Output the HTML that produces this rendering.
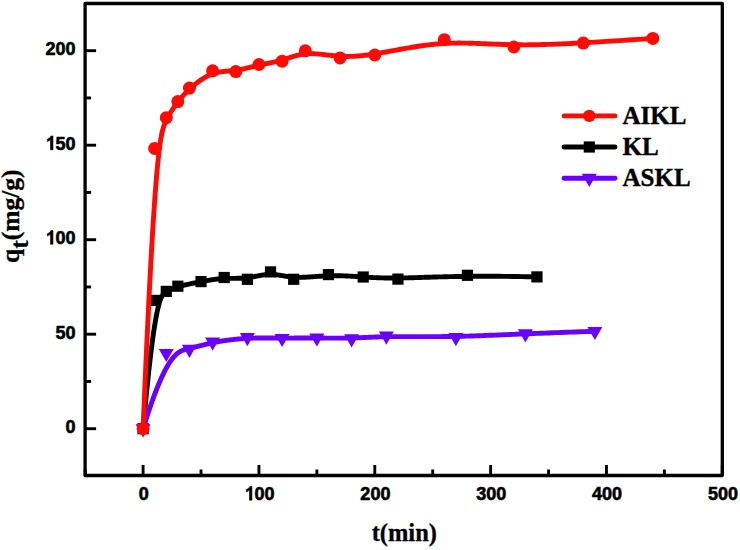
<!DOCTYPE html>
<html><head><meta charset="utf-8"><style>
html,body{margin:0;padding:0;background:#fff;}
body{width:740px;height:550px;overflow:hidden;}
svg{display:block;}
.tl{font-family:"Liberation Sans",sans-serif;font-weight:bold;font-size:18px;fill:#000;stroke:#000;stroke-width:0.6px;stroke-linejoin:round;}
.lg{font-family:"Liberation Serif",serif;font-weight:bold;font-size:25px;fill:#000;stroke:#000;stroke-width:0.4px;}
.at{font-family:"Liberation Serif",serif;font-weight:bold;font-size:24px;fill:#000;stroke:#000;stroke-width:0.3px;}
</style></head><body>
<svg width="740" height="550" viewBox="0 0 740 550">
<rect x="85.1" y="3.5" width="637.20" height="472.00" fill="none" stroke="#000" stroke-width="3.3" stroke-linejoin="round"/>
<line x1="85.1" y1="428.70" x2="96.10" y2="428.70" stroke="#000" stroke-width="2.9"/>
<text transform="translate(65.59,433.30) scale(1,1.07)" class="tl">0</text>
<line x1="85.1" y1="334.20" x2="96.10" y2="334.20" stroke="#000" stroke-width="2.9"/>
<text transform="translate(55.58,338.80) scale(1,1.07)" class="tl">5</text><text transform="translate(65.59,338.80) scale(1,1.07)" class="tl">0</text>
<line x1="85.1" y1="239.70" x2="96.10" y2="239.70" stroke="#000" stroke-width="2.9"/>
<path transform="translate(45.58,244.30) scale(1,1.07)" d="M7.38,0.00 L7.38,-12.89 L5.40,-12.89 L5.04,-12.10 L3.96,-11.07 L2.70,-10.26 L1.80,-9.90 L1.80,-7.83 L3.24,-8.37 L4.23,-8.95 L4.95,-9.49 L4.95,0.00Z" fill="#000" stroke="#000" stroke-width="0.6" stroke-linejoin="round"/><text transform="translate(55.58,244.30) scale(1,1.07)" class="tl">0</text><text transform="translate(65.59,244.30) scale(1,1.07)" class="tl">0</text>
<line x1="85.1" y1="145.20" x2="96.10" y2="145.20" stroke="#000" stroke-width="2.9"/>
<path transform="translate(45.58,149.80) scale(1,1.07)" d="M7.38,0.00 L7.38,-12.89 L5.40,-12.89 L5.04,-12.10 L3.96,-11.07 L2.70,-10.26 L1.80,-9.90 L1.80,-7.83 L3.24,-8.37 L4.23,-8.95 L4.95,-9.49 L4.95,0.00Z" fill="#000" stroke="#000" stroke-width="0.6" stroke-linejoin="round"/><text transform="translate(55.58,149.80) scale(1,1.07)" class="tl">5</text><text transform="translate(65.59,149.80) scale(1,1.07)" class="tl">0</text>
<line x1="85.1" y1="50.70" x2="96.10" y2="50.70" stroke="#000" stroke-width="2.9"/>
<text transform="translate(45.58,55.30) scale(1,1.07)" class="tl">2</text><text transform="translate(55.58,55.30) scale(1,1.07)" class="tl">0</text><text transform="translate(65.59,55.30) scale(1,1.07)" class="tl">0</text>
<line x1="85.1" y1="381.45" x2="91.10" y2="381.45" stroke="#000" stroke-width="2.9"/>
<line x1="85.1" y1="286.95" x2="91.10" y2="286.95" stroke="#000" stroke-width="2.9"/>
<line x1="85.1" y1="192.45" x2="91.10" y2="192.45" stroke="#000" stroke-width="2.9"/>
<line x1="85.1" y1="97.95" x2="91.10" y2="97.95" stroke="#000" stroke-width="2.9"/>
<line x1="143.10" y1="475.5" x2="143.10" y2="465.00" stroke="#000" stroke-width="2.9"/>
<text transform="translate(138.70,500.20) scale(1,1.07)" class="tl">0</text>
<line x1="258.94" y1="475.5" x2="258.94" y2="465.00" stroke="#000" stroke-width="2.9"/>
<path transform="translate(244.53,500.20) scale(1,1.07)" d="M7.38,0.00 L7.38,-12.89 L5.40,-12.89 L5.04,-12.10 L3.96,-11.07 L2.70,-10.26 L1.80,-9.90 L1.80,-7.83 L3.24,-8.37 L4.23,-8.95 L4.95,-9.49 L4.95,0.00Z" fill="#000" stroke="#000" stroke-width="0.6" stroke-linejoin="round"/><text transform="translate(254.54,500.20) scale(1,1.07)" class="tl">0</text><text transform="translate(264.54,500.20) scale(1,1.07)" class="tl">0</text>
<line x1="374.78" y1="475.5" x2="374.78" y2="465.00" stroke="#000" stroke-width="2.9"/>
<text transform="translate(360.37,500.20) scale(1,1.07)" class="tl">2</text><text transform="translate(370.38,500.20) scale(1,1.07)" class="tl">0</text><text transform="translate(380.38,500.20) scale(1,1.07)" class="tl">0</text>
<line x1="490.62" y1="475.5" x2="490.62" y2="465.00" stroke="#000" stroke-width="2.9"/>
<text transform="translate(476.21,500.20) scale(1,1.07)" class="tl">3</text><text transform="translate(486.22,500.20) scale(1,1.07)" class="tl">0</text><text transform="translate(496.22,500.20) scale(1,1.07)" class="tl">0</text>
<line x1="606.46" y1="475.5" x2="606.46" y2="465.00" stroke="#000" stroke-width="2.9"/>
<text transform="translate(592.05,500.20) scale(1,1.07)" class="tl">4</text><text transform="translate(602.06,500.20) scale(1,1.07)" class="tl">0</text><text transform="translate(612.06,500.20) scale(1,1.07)" class="tl">0</text>
<line x1="722.30" y1="475.5" x2="722.30" y2="465.00" stroke="#000" stroke-width="2.9"/>
<text transform="translate(707.89,500.20) scale(1,1.07)" class="tl">5</text><text transform="translate(717.90,500.20) scale(1,1.07)" class="tl">0</text><text transform="translate(727.90,500.20) scale(1,1.07)" class="tl">0</text>
<line x1="85.18" y1="475.5" x2="85.18" y2="469.50" stroke="#000" stroke-width="2.9"/>
<line x1="201.02" y1="475.5" x2="201.02" y2="469.50" stroke="#000" stroke-width="2.9"/>
<line x1="316.86" y1="475.5" x2="316.86" y2="469.50" stroke="#000" stroke-width="2.9"/>
<line x1="432.70" y1="475.5" x2="432.70" y2="469.50" stroke="#000" stroke-width="2.9"/>
<line x1="548.54" y1="475.5" x2="548.54" y2="469.50" stroke="#000" stroke-width="2.9"/>
<line x1="664.38" y1="475.5" x2="664.38" y2="469.50" stroke="#000" stroke-width="2.9"/>
<path d="M143.10,428.70 L143.96,419.31 L144.79,410.37 L145.61,401.87 L146.41,393.80 L147.18,386.15 L147.94,378.91 L148.68,372.06 L149.39,365.60 L150.09,359.51 L150.78,353.77 L151.44,348.39 L152.09,343.35 L152.72,338.63 L153.34,334.23 L153.94,330.14 L154.53,326.33 L155.10,322.80 L155.66,319.55 L156.20,316.55 L156.74,313.80 L157.25,311.28 L157.76,308.99 L158.26,306.90 L158.74,305.02 L159.21,303.33 L159.67,301.81 L160.13,300.46 L160.57,299.27 L161.00,298.21 L161.43,297.29 L161.84,296.49 L162.25,295.80 L162.65,295.20 L163.05,294.69 L163.44,294.26 L163.82,293.88 L164.20,293.56 L164.57,293.28 L164.94,293.02 L165.30,292.78 L165.66,292.55 L166.02,292.33 L166.37,292.10 L166.72,291.89 L167.07,291.68 L167.42,291.47 L167.76,291.27 L168.11,291.07 L168.45,290.88 L168.79,290.69 L169.13,290.50 L169.46,290.32 L169.80,290.14 L170.14,289.96 L170.48,289.79 L170.82,289.63 L171.16,289.46 L171.50,289.30 L171.84,289.14 L172.18,288.99 L172.53,288.83 L172.87,288.68 L173.22,288.54 L173.57,288.39 L173.93,288.25 L174.29,288.11 L174.65,287.97 L175.01,287.83 L175.38,287.70 L175.76,287.56 L176.13,287.43 L176.52,287.30 L176.90,287.17 L177.30,287.05 L177.70,286.92 L178.10,286.79 L178.51,286.67 L178.93,286.55 L179.35,286.42 L179.78,286.30 L180.22,286.18 L180.67,286.06 L181.12,285.93 L181.58,285.81 L182.04,285.69 L182.51,285.57 L182.99,285.45 L183.47,285.33 L183.96,285.21 L184.46,285.09 L184.96,284.97 L185.46,284.86 L185.98,284.74 L186.49,284.62 L187.01,284.50 L187.54,284.39 L188.07,284.27 L188.60,284.15 L189.14,284.04 L189.68,283.92 L190.22,283.81 L190.77,283.69 L191.32,283.58 L191.88,283.46 L192.43,283.35 L192.99,283.24 L193.56,283.12 L194.12,283.01 L194.69,282.90 L195.26,282.79 L195.83,282.67 L196.40,282.56 L196.98,282.45 L197.55,282.34 L198.13,282.23 L198.71,282.12 L199.28,282.01 L199.86,281.90 L200.44,281.79 L201.02,281.68 L201.60,281.57 L202.18,281.47 L202.76,281.36 L203.34,281.25 L203.92,281.15 L204.50,281.04 L205.07,280.93 L205.65,280.83 L206.23,280.73 L206.81,280.63 L207.39,280.52 L207.97,280.43 L208.55,280.33 L209.13,280.23 L209.71,280.13 L210.29,280.04 L210.87,279.95 L211.45,279.86 L212.02,279.77 L212.60,279.68 L213.18,279.60 L213.76,279.52 L214.34,279.44 L214.92,279.36 L215.50,279.28 L216.08,279.21 L216.66,279.14 L217.24,279.07 L217.82,279.00 L218.40,278.94 L218.98,278.88 L219.55,278.82 L220.13,278.77 L220.71,278.72 L221.29,278.67 L221.87,278.63 L222.45,278.59 L223.03,278.55 L223.61,278.51 L224.19,278.48 L224.77,278.46 L225.35,278.43 L225.93,278.41 L226.50,278.40 L227.08,278.38 L227.66,278.37 L228.24,278.36 L228.82,278.35 L229.40,278.35 L229.98,278.34 L230.56,278.34 L231.14,278.34 L231.72,278.33 L232.30,278.33 L232.88,278.33 L233.46,278.33 L234.03,278.33 L234.61,278.33 L235.19,278.33 L235.77,278.33 L236.35,278.33 L236.93,278.32 L237.51,278.32 L238.09,278.31 L238.67,278.30 L239.25,278.29 L239.83,278.28 L240.41,278.26 L240.98,278.24 L241.56,278.22 L242.14,278.19 L242.72,278.16 L243.30,278.13 L243.88,278.09 L244.46,278.05 L245.04,278.00 L245.62,277.95 L246.20,277.90 L246.78,277.83 L247.36,277.77 L247.94,277.69 L248.51,277.62 L249.09,277.53 L249.67,277.44 L250.25,277.35 L250.83,277.26 L251.41,277.16 L251.99,277.05 L252.57,276.95 L253.15,276.84 L253.73,276.73 L254.31,276.62 L254.89,276.51 L255.46,276.39 L256.04,276.28 L256.62,276.17 L257.20,276.05 L257.78,275.94 L258.36,275.83 L258.94,275.72 L259.52,275.61 L260.10,275.50 L260.68,275.40 L261.26,275.29 L261.84,275.20 L262.42,275.10 L262.99,275.01 L263.57,274.92 L264.15,274.84 L264.73,274.77 L265.31,274.70 L265.89,274.63 L266.47,274.57 L267.05,274.52 L267.63,274.47 L268.21,274.44 L268.79,274.41 L269.37,274.38 L269.94,274.37 L270.52,274.37 L271.10,274.37 L271.68,274.38 L272.26,274.41 L272.84,274.44 L273.42,274.47 L274.01,274.52 L274.59,274.57 L275.17,274.63 L275.76,274.69 L276.35,274.76 L276.94,274.83 L277.53,274.91 L278.12,274.99 L278.72,275.08 L279.31,275.17 L279.91,275.26 L280.52,275.36 L281.13,275.46 L281.74,275.56 L282.35,275.66 L282.97,275.76 L283.59,275.86 L284.21,275.96 L284.84,276.06 L285.48,276.16 L286.11,276.26 L286.76,276.36 L287.40,276.45 L288.06,276.55 L288.71,276.64 L289.38,276.72 L290.05,276.81 L290.72,276.89 L291.40,276.96 L292.09,277.03 L292.78,277.09 L293.48,277.15 L294.19,277.20 L294.90,277.25 L295.62,277.28 L296.35,277.31 L297.08,277.34 L297.83,277.35 L298.57,277.36 L299.33,277.36 L300.09,277.36 L300.86,277.35 L301.63,277.34 L302.41,277.32 L303.19,277.29 L303.98,277.26 L304.78,277.23 L305.58,277.19 L306.39,277.15 L307.20,277.11 L308.01,277.06 L308.83,277.01 L309.65,276.96 L310.48,276.90 L311.31,276.85 L312.14,276.79 L312.98,276.73 L313.82,276.67 L314.67,276.61 L315.51,276.55 L316.36,276.48 L317.22,276.42 L318.07,276.36 L318.93,276.30 L319.79,276.24 L320.65,276.19 L321.51,276.13 L322.37,276.08 L323.24,276.02 L324.10,275.98 L324.97,275.93 L325.84,275.89 L326.71,275.85 L327.58,275.81 L328.44,275.78 L329.31,275.76 L330.18,275.73 L331.05,275.72 L331.92,275.70 L332.79,275.69 L333.66,275.69 L334.53,275.68 L335.39,275.69 L336.26,275.69 L337.13,275.70 L338.00,275.71 L338.87,275.72 L339.74,275.74 L340.61,275.76 L341.48,275.79 L342.34,275.81 L343.21,275.84 L344.08,275.87 L344.95,275.91 L345.82,275.94 L346.69,275.98 L347.56,276.02 L348.43,276.06 L349.30,276.10 L350.16,276.15 L351.03,276.20 L351.90,276.25 L352.77,276.29 L353.64,276.35 L354.51,276.40 L355.38,276.45 L356.25,276.50 L357.11,276.56 L357.98,276.61 L358.85,276.67 L359.72,276.72 L360.59,276.78 L361.46,276.84 L362.33,276.89 L363.20,276.95 L364.06,277.01 L364.94,277.06 L365.81,277.12 L366.68,277.17 L367.56,277.23 L368.45,277.28 L369.34,277.33 L370.24,277.38 L371.15,277.43 L372.06,277.48 L372.99,277.53 L373.93,277.58 L374.89,277.62 L375.86,277.67 L376.84,277.71 L377.84,277.75 L378.85,277.78 L379.89,277.82 L380.94,277.85 L382.02,277.88 L383.12,277.91 L384.24,277.93 L385.38,277.96 L386.55,277.98 L387.74,277.99 L388.97,278.01 L390.22,278.02 L391.50,278.02 L392.81,278.03 L394.15,278.03 L395.52,278.02 L396.93,278.01 L398.37,278.00 L399.85,277.99 L401.36,277.97 L402.92,277.94 L404.51,277.91 L406.14,277.88 L407.82,277.84 L409.53,277.80 L411.29,277.75 L413.10,277.70 L414.95,277.65 L416.85,277.59 L418.81,277.52 L420.82,277.46 L422.88,277.39 L425.01,277.32 L427.19,277.25 L429.44,277.18 L431.76,277.11 L434.14,277.04 L436.59,276.97 L439.11,276.90 L441.70,276.83 L444.38,276.76 L447.13,276.70 L449.96,276.64 L452.87,276.58 L455.87,276.52 L458.95,276.47 L462.13,276.43 L465.39,276.39 L468.75,276.35 L472.20,276.32 L475.75,276.30 L479.41,276.28 L483.16,276.28 L487.02,276.27 L490.98,276.28 L495.05,276.30 L499.24,276.32 L503.54,276.36 L507.95,276.40 L512.48,276.45 L517.12,276.52 L521.89,276.60 L526.79,276.69 L531.81,276.79 L536.96,276.90" fill="none" stroke="#000000" stroke-width="4.9" stroke-linejoin="round" stroke-linecap="round"/>
<rect x="137.50" y="423.10" width="11.2" height="11.2" fill="#000000"/><rect x="149.08" y="294.80" width="11.2" height="11.2" fill="#000000"/><rect x="160.67" y="285.80" width="11.2" height="11.2" fill="#000000"/><rect x="172.25" y="280.60" width="11.2" height="11.2" fill="#000000"/><rect x="195.42" y="276.00" width="11.2" height="11.2" fill="#000000"/><rect x="218.59" y="271.90" width="11.2" height="11.2" fill="#000000"/><rect x="241.76" y="273.70" width="11.2" height="11.2" fill="#000000"/><rect x="264.92" y="266.30" width="11.2" height="11.2" fill="#000000"/><rect x="288.09" y="273.70" width="11.2" height="11.2" fill="#000000"/><rect x="322.84" y="269.00" width="11.2" height="11.2" fill="#000000"/><rect x="357.60" y="271.40" width="11.2" height="11.2" fill="#000000"/><rect x="392.35" y="273.50" width="11.2" height="11.2" fill="#000000"/><rect x="461.85" y="269.70" width="11.2" height="11.2" fill="#000000"/><rect x="531.36" y="271.30" width="11.2" height="11.2" fill="#000000"/>
<path d="M143.10,428.70 L144.82,423.18 L146.49,417.93 L148.12,412.94 L149.71,408.21 L151.26,403.72 L152.78,399.47 L154.25,395.46 L155.69,391.67 L157.09,388.10 L158.45,384.75 L159.79,381.60 L161.08,378.65 L162.35,375.89 L163.58,373.32 L164.79,370.93 L165.96,368.70 L167.10,366.65 L168.22,364.75 L169.31,363.00 L170.37,361.39 L171.41,359.93 L172.42,358.59 L173.41,357.38 L174.38,356.28 L175.32,355.29 L176.25,354.41 L177.15,353.62 L178.04,352.92 L178.90,352.30 L179.75,351.76 L180.59,351.28 L181.40,350.87 L182.21,350.51 L183.00,350.20 L183.78,349.93 L184.54,349.69 L185.30,349.48 L186.04,349.30 L186.78,349.12 L187.51,348.95 L188.23,348.78 L188.94,348.61 L189.65,348.44 L190.35,348.27 L191.04,348.10 L191.73,347.93 L192.42,347.76 L193.10,347.59 L193.77,347.42 L194.44,347.24 L195.11,347.07 L195.78,346.90 L196.44,346.73 L197.10,346.56 L197.75,346.39 L198.41,346.22 L199.06,346.05 L199.72,345.88 L200.37,345.71 L201.02,345.54 L201.67,345.37 L202.32,345.20 L202.98,345.04 L203.63,344.87 L204.29,344.71 L204.94,344.54 L205.60,344.38 L206.26,344.22 L206.93,344.05 L207.60,343.89 L208.27,343.74 L208.94,343.58 L209.62,343.42 L210.31,343.27 L211.00,343.11 L211.69,342.96 L212.39,342.81 L213.10,342.66 L213.81,342.51 L214.53,342.37 L215.26,342.22 L216.00,342.08 L216.74,341.94 L217.49,341.80 L218.24,341.66 L219.00,341.53 L219.77,341.40 L220.54,341.27 L221.32,341.14 L222.11,341.01 L222.90,340.89 L223.69,340.76 L224.49,340.64 L225.30,340.53 L226.11,340.41 L226.92,340.30 L227.74,340.19 L228.56,340.08 L229.39,339.97 L230.22,339.87 L231.06,339.77 L231.89,339.67 L232.73,339.57 L233.58,339.48 L234.43,339.39 L235.28,339.30 L236.13,339.21 L236.98,339.13 L237.84,339.05 L238.70,338.97 L239.56,338.90 L240.42,338.83 L241.28,338.76 L242.15,338.69 L243.02,338.63 L243.88,338.57 L244.75,338.52 L245.62,338.46 L246.49,338.41 L247.36,338.37 L248.22,338.32 L249.09,338.28 L249.96,338.25 L250.83,338.21 L251.70,338.18 L252.57,338.15 L253.44,338.13 L254.31,338.10 L255.18,338.08 L256.04,338.06 L256.91,338.05 L257.78,338.03 L258.65,338.02 L259.52,338.01 L260.39,338.00 L261.26,337.99 L262.13,337.99 L262.99,337.98 L263.86,337.98 L264.73,337.98 L265.60,337.98 L266.47,337.98 L267.34,337.99 L268.21,337.99 L269.08,337.99 L269.94,338.00 L270.81,338.00 L271.68,338.01 L272.55,338.02 L273.42,338.02 L274.29,338.03 L275.16,338.04 L276.03,338.04 L276.90,338.05 L277.76,338.06 L278.63,338.06 L279.50,338.07 L280.37,338.07 L281.24,338.08 L282.11,338.08 L282.98,338.09 L283.85,338.09 L284.71,338.09 L285.58,338.09 L286.45,338.09 L287.32,338.09 L288.19,338.09 L289.06,338.09 L289.93,338.09 L290.80,338.09 L291.66,338.08 L292.53,338.08 L293.40,338.08 L294.27,338.07 L295.14,338.07 L296.01,338.07 L296.88,338.06 L297.75,338.06 L298.62,338.05 L299.48,338.05 L300.35,338.05 L301.22,338.04 L302.09,338.04 L302.96,338.03 L303.83,338.03 L304.70,338.03 L305.57,338.02 L306.43,338.02 L307.30,338.02 L308.17,338.01 L309.04,338.01 L309.91,338.01 L310.78,338.01 L311.65,338.01 L312.52,338.01 L313.38,338.01 L314.25,338.01 L315.12,338.01 L315.99,338.01 L316.86,338.02 L317.73,338.02 L318.60,338.03 L319.47,338.03 L320.34,338.04 L321.20,338.04 L322.07,338.05 L322.94,338.06 L323.81,338.07 L324.68,338.07 L325.55,338.08 L326.42,338.09 L327.29,338.10 L328.15,338.11 L329.02,338.11 L329.89,338.12 L330.76,338.13 L331.63,338.14 L332.50,338.14 L333.37,338.15 L334.24,338.15 L335.10,338.16 L335.97,338.16 L336.84,338.17 L337.71,338.17 L338.58,338.17 L339.45,338.17 L340.32,338.17 L341.19,338.17 L342.06,338.16 L342.92,338.16 L343.79,338.15 L344.66,338.14 L345.53,338.13 L346.40,338.12 L347.27,338.11 L348.14,338.09 L349.01,338.08 L349.87,338.06 L350.74,338.04 L351.61,338.02 L352.48,337.99 L353.35,337.96 L354.22,337.94 L355.09,337.91 L355.97,337.87 L356.84,337.84 L357.72,337.80 L358.61,337.77 L359.50,337.73 L360.39,337.69 L361.29,337.65 L362.19,337.61 L363.11,337.57 L364.02,337.53 L364.95,337.48 L365.88,337.44 L366.83,337.40 L367.78,337.35 L368.74,337.31 L369.71,337.27 L370.69,337.22 L371.69,337.18 L372.70,337.14 L373.71,337.10 L374.75,337.06 L375.79,337.02 L376.85,336.98 L377.93,336.94 L379.01,336.90 L380.12,336.87 L381.24,336.83 L382.38,336.80 L383.53,336.77 L384.71,336.74 L385.90,336.72 L387.11,336.69 L388.34,336.67 L389.59,336.65 L390.86,336.63 L392.16,336.62 L393.47,336.60 L394.81,336.59 L396.16,336.59 L397.54,336.58 L398.94,336.58 L400.37,336.58 L401.81,336.58 L403.28,336.58 L404.76,336.58 L406.27,336.58 L407.81,336.59 L409.36,336.59 L410.93,336.60 L412.53,336.60 L414.15,336.61 L415.79,336.62 L417.45,336.62 L419.13,336.63 L420.84,336.63 L422.56,336.63 L424.31,336.64 L426.08,336.64 L427.87,336.64 L429.69,336.64 L431.52,336.63 L433.38,336.63 L435.26,336.62 L437.16,336.61 L439.08,336.60 L441.03,336.59 L442.99,336.57 L444.98,336.55 L446.99,336.53 L449.02,336.50 L451.07,336.47 L453.15,336.44 L455.24,336.40 L457.36,336.36 L459.50,336.31 L461.66,336.26 L463.84,336.20 L466.05,336.14 L468.29,336.08 L470.55,336.01 L472.85,335.94 L475.18,335.86 L477.55,335.78 L479.96,335.69 L482.42,335.60 L484.92,335.51 L487.47,335.41 L490.07,335.31 L492.73,335.20 L495.44,335.10 L498.21,334.98 L501.05,334.87 L503.95,334.75 L506.91,334.63 L509.95,334.50 L513.06,334.38 L516.25,334.25 L519.52,334.11 L522.87,333.97 L526.30,333.83 L529.82,333.69 L533.43,333.55 L537.13,333.40 L540.92,333.25 L544.82,333.10 L548.81,332.95 L552.91,332.79 L557.11,332.63 L561.42,332.47 L565.85,332.31 L570.38,332.14 L575.04,331.98 L579.81,331.81 L584.71,331.64 L589.73,331.47 L594.88,331.30" fill="none" stroke="#6a00ff" stroke-width="4.9" stroke-linejoin="round" stroke-linecap="round"/>
<polygon points="135.60,424.30 150.60,424.30 143.10,437.50" fill="#6a00ff"/><polygon points="158.77,348.90 173.77,348.90 166.27,362.10" fill="#6a00ff"/><polygon points="181.94,344.70 196.94,344.70 189.44,357.90" fill="#6a00ff"/><polygon points="205.10,337.50 220.10,337.50 212.60,350.70" fill="#6a00ff"/><polygon points="239.86,333.10 254.86,333.10 247.36,346.30" fill="#6a00ff"/><polygon points="274.61,333.90 289.61,333.90 282.11,347.10" fill="#6a00ff"/><polygon points="309.36,333.40 324.36,333.40 316.86,346.60" fill="#6a00ff"/><polygon points="344.11,334.20 359.11,334.20 351.61,347.40" fill="#6a00ff"/><polygon points="378.86,331.50 393.86,331.50 386.36,344.70" fill="#6a00ff"/><polygon points="448.37,333.10 463.37,333.10 455.87,346.30" fill="#6a00ff"/><polygon points="517.87,329.20 532.87,329.20 525.37,342.40" fill="#6a00ff"/><polygon points="587.38,326.90 602.38,326.90 594.88,340.10" fill="#6a00ff"/>
<path d="M143.10,428.70 L143.96,408.17 L144.79,388.61 L145.61,369.99 L146.41,352.30 L147.18,335.50 L147.94,319.57 L148.68,304.49 L149.39,290.23 L150.09,276.78 L150.78,264.09 L151.44,252.16 L152.09,240.95 L152.72,230.44 L153.34,220.61 L153.94,211.43 L154.53,202.88 L155.10,194.93 L155.66,187.56 L156.20,180.75 L156.74,174.47 L157.25,168.69 L157.76,163.40 L158.26,158.56 L158.74,154.16 L159.21,150.16 L159.67,146.55 L160.13,143.30 L160.57,140.38 L161.00,137.78 L161.43,135.46 L161.84,133.40 L162.25,131.59 L162.65,129.98 L163.05,128.57 L163.44,127.32 L163.82,126.21 L164.20,125.22 L164.57,124.32 L164.94,123.48 L165.30,122.69 L165.66,121.92 L166.02,121.17 L166.37,120.44 L166.72,119.73 L167.07,119.03 L167.41,118.35 L167.75,117.69 L168.09,117.04 L168.43,116.41 L168.76,115.79 L169.09,115.18 L169.41,114.59 L169.74,114.02 L170.06,113.45 L170.38,112.90 L170.69,112.37 L171.01,111.84 L171.32,111.32 L171.63,110.82 L171.94,110.33 L172.25,109.85 L172.55,109.37 L172.85,108.91 L173.16,108.45 L173.46,108.01 L173.76,107.57 L174.05,107.14 L174.35,106.71 L174.65,106.30 L174.94,105.89 L175.23,105.48 L175.53,105.08 L175.82,104.69 L176.11,104.30 L176.40,103.91 L176.69,103.53 L176.98,103.15 L177.27,102.78 L177.56,102.40 L177.85,102.03 L178.14,101.66 L178.43,101.30 L178.72,100.93 L179.01,100.57 L179.30,100.20 L179.60,99.84 L179.89,99.48 L180.18,99.12 L180.48,98.76 L180.78,98.40 L181.08,98.04 L181.38,97.68 L181.68,97.32 L181.99,96.97 L182.30,96.61 L182.61,96.25 L182.92,95.90 L183.24,95.54 L183.56,95.18 L183.89,94.82 L184.21,94.47 L184.54,94.11 L184.88,93.75 L185.22,93.39 L185.56,93.03 L185.91,92.67 L186.26,92.31 L186.62,91.94 L186.99,91.58 L187.35,91.21 L187.73,90.85 L188.11,90.48 L188.49,90.11 L188.88,89.74 L189.28,89.36 L189.69,88.99 L190.10,88.61 L190.51,88.23 L190.94,87.85 L191.37,87.47 L191.80,87.08 L192.25,86.69 L192.70,86.30 L193.16,85.91 L193.63,85.52 L194.10,85.13 L194.57,84.73 L195.06,84.34 L195.55,83.95 L196.04,83.55 L196.54,83.16 L197.05,82.77 L197.56,82.39 L198.08,82.00 L198.60,81.62 L199.12,81.24 L199.65,80.86 L200.18,80.48 L200.72,80.11 L201.26,79.75 L201.81,79.39 L202.35,79.03 L202.91,78.68 L203.46,78.33 L204.02,77.99 L204.58,77.66 L205.14,77.33 L205.71,77.01 L206.27,76.69 L206.84,76.39 L207.41,76.09 L207.99,75.80 L208.56,75.52 L209.14,75.25 L209.71,74.98 L210.29,74.73 L210.87,74.48 L211.45,74.25 L212.02,74.03 L212.60,73.82 L213.18,73.62 L213.76,73.43 L214.34,73.25 L214.92,73.08 L215.50,72.92 L216.08,72.77 L216.66,72.63 L217.24,72.49 L217.82,72.37 L218.40,72.25 L218.98,72.14 L219.55,72.04 L220.13,71.94 L220.71,71.85 L221.29,71.77 L221.87,71.69 L222.45,71.61 L223.03,71.54 L223.61,71.48 L224.19,71.41 L224.77,71.35 L225.35,71.30 L225.93,71.24 L226.50,71.19 L227.08,71.14 L227.66,71.09 L228.24,71.04 L228.82,70.99 L229.40,70.94 L229.98,70.89 L230.56,70.84 L231.14,70.79 L231.72,70.74 L232.30,70.68 L232.88,70.62 L233.46,70.56 L234.03,70.50 L234.61,70.43 L235.19,70.36 L235.77,70.28 L236.35,70.20 L236.93,70.12 L237.51,70.03 L238.09,69.93 L238.67,69.83 L239.25,69.73 L239.83,69.62 L240.41,69.51 L240.98,69.40 L241.56,69.28 L242.14,69.16 L242.72,69.04 L243.30,68.91 L243.88,68.78 L244.46,68.65 L245.04,68.52 L245.62,68.38 L246.20,68.24 L246.78,68.10 L247.36,67.96 L247.94,67.82 L248.51,67.68 L249.09,67.54 L249.67,67.39 L250.25,67.25 L250.83,67.10 L251.41,66.96 L251.99,66.81 L252.57,66.67 L253.15,66.52 L253.73,66.38 L254.31,66.23 L254.89,66.09 L255.46,65.95 L256.04,65.81 L256.62,65.67 L257.20,65.53 L257.78,65.40 L258.36,65.26 L258.94,65.13 L259.52,65.00 L260.10,64.88 L260.68,64.75 L261.26,64.63 L261.84,64.51 L262.42,64.39 L262.99,64.27 L263.57,64.15 L264.15,64.04 L264.73,63.92 L265.31,63.81 L265.89,63.70 L266.47,63.58 L267.05,63.47 L267.63,63.35 L268.21,63.24 L268.79,63.13 L269.37,63.01 L269.94,62.90 L270.52,62.78 L271.10,62.66 L271.68,62.55 L272.26,62.43 L272.84,62.30 L273.42,62.18 L274.00,62.06 L274.58,61.93 L275.16,61.80 L275.74,61.67 L276.32,61.54 L276.90,61.40 L277.47,61.26 L278.05,61.12 L278.63,60.97 L279.21,60.82 L279.79,60.67 L280.37,60.51 L280.95,60.35 L281.53,60.19 L282.11,60.02 L282.69,59.84 L283.27,59.67 L283.85,59.48 L284.43,59.30 L285.01,59.11 L285.59,58.92 L286.17,58.73 L286.76,58.54 L287.34,58.34 L287.93,58.15 L288.52,57.95 L289.11,57.75 L289.70,57.56 L290.30,57.36 L290.90,57.16 L291.50,56.97 L292.10,56.78 L292.71,56.59 L293.32,56.40 L293.93,56.22 L294.55,56.04 L295.17,55.86 L295.80,55.68 L296.43,55.51 L297.06,55.35 L297.70,55.19 L298.34,55.04 L298.99,54.89 L299.64,54.75 L300.30,54.61 L300.96,54.48 L301.63,54.36 L302.31,54.25 L302.99,54.15 L303.67,54.05 L304.37,53.97 L305.07,53.89 L305.77,53.82 L306.49,53.76 L307.21,53.72 L307.93,53.68 L308.67,53.66 L309.41,53.64 L310.16,53.63 L310.91,53.64 L311.67,53.65 L312.44,53.67 L313.21,53.70 L313.99,53.74 L314.78,53.78 L315.57,53.83 L316.36,53.89 L317.16,53.95 L317.97,54.01 L318.78,54.09 L319.59,54.16 L320.41,54.24 L321.24,54.33 L322.06,54.42 L322.89,54.51 L323.73,54.60 L324.57,54.69 L325.41,54.79 L326.25,54.89 L327.10,54.98 L327.95,55.08 L328.80,55.18 L329.65,55.28 L330.51,55.37 L331.37,55.47 L332.23,55.56 L333.09,55.65 L333.96,55.74 L334.82,55.82 L335.69,55.90 L336.55,55.98 L337.42,56.05 L338.29,56.12 L339.16,56.18 L340.03,56.23 L340.90,56.28 L341.77,56.33 L342.64,56.36 L343.51,56.39 L344.38,56.42 L345.26,56.43 L346.14,56.45 L347.02,56.45 L347.91,56.45 L348.81,56.44 L349.71,56.42 L350.61,56.40 L351.52,56.37 L352.44,56.34 L353.37,56.30 L354.30,56.25 L355.24,56.19 L356.19,56.13 L357.16,56.06 L358.13,55.98 L359.11,55.90 L360.11,55.81 L361.11,55.71 L362.13,55.61 L363.16,55.50 L364.21,55.38 L365.27,55.25 L366.34,55.12 L367.43,54.98 L368.54,54.83 L369.66,54.67 L370.80,54.51 L371.95,54.34 L373.12,54.16 L374.32,53.97 L375.53,53.78 L376.76,53.58 L378.01,53.37 L379.28,53.16 L380.57,52.93 L381.89,52.70 L383.22,52.46 L384.58,52.22 L385.95,51.97 L387.35,51.71 L388.76,51.45 L390.20,51.18 L391.65,50.91 L393.11,50.64 L394.60,50.36 L396.10,50.08 L397.62,49.80 L399.15,49.52 L400.70,49.24 L402.26,48.96 L403.83,48.67 L405.42,48.39 L407.02,48.11 L408.63,47.84 L410.26,47.56 L411.89,47.29 L413.53,47.02 L415.19,46.76 L416.85,46.50 L418.53,46.25 L420.21,46.00 L421.89,45.76 L423.59,45.53 L425.29,45.30 L427.00,45.08 L428.71,44.87 L430.43,44.67 L432.15,44.48 L433.88,44.30 L435.61,44.13 L437.34,43.97 L439.07,43.83 L440.81,43.69 L442.55,43.57 L444.28,43.47 L446.02,43.37 L447.76,43.29 L449.50,43.23 L451.24,43.17 L452.98,43.13 L454.73,43.10 L456.48,43.08 L458.23,43.07 L459.99,43.07 L461.75,43.08 L463.52,43.10 L465.29,43.12 L467.07,43.16 L468.86,43.20 L470.65,43.24 L472.46,43.29 L474.27,43.35 L476.09,43.41 L477.92,43.48 L479.76,43.55 L481.61,43.62 L483.47,43.69 L485.35,43.77 L487.24,43.85 L489.14,43.93 L491.05,44.00 L492.98,44.08 L494.92,44.16 L496.88,44.24 L498.86,44.31 L500.85,44.38 L502.85,44.45 L504.88,44.51 L506.92,44.57 L508.98,44.63 L511.06,44.68 L513.16,44.72 L515.28,44.76 L517.42,44.79 L519.58,44.81 L521.76,44.82 L523.97,44.83 L526.21,44.83 L528.47,44.81 L530.77,44.80 L533.10,44.77 L535.47,44.73 L537.88,44.69 L540.34,44.63 L542.84,44.57 L545.39,44.50 L547.99,44.42 L550.65,44.33 L553.36,44.23 L556.13,44.13 L558.97,44.01 L561.87,43.89 L564.83,43.75 L567.87,43.61 L570.98,43.46 L574.17,43.30 L577.44,43.13 L580.79,42.95 L584.22,42.76 L587.74,42.56 L591.35,42.35 L595.05,42.13 L598.84,41.90 L602.74,41.67 L606.73,41.42 L610.83,41.16 L615.03,40.89 L619.34,40.62 L623.77,40.33 L628.30,40.03 L632.96,39.73 L637.73,39.41 L642.63,39.08 L647.65,38.75 L652.80,38.40" fill="none" stroke="#ff0a05" stroke-width="4.9" stroke-linejoin="round" stroke-linecap="round"/>
<circle cx="143.10" cy="428.70" r="6.5" fill="#ff0a05"/><circle cx="154.68" cy="148.40" r="6.5" fill="#ff0a05"/><circle cx="166.27" cy="117.70" r="6.5" fill="#ff0a05"/><circle cx="177.85" cy="101.60" r="6.5" fill="#ff0a05"/><circle cx="189.44" cy="88.10" r="6.5" fill="#ff0a05"/><circle cx="212.60" cy="70.80" r="6.5" fill="#ff0a05"/><circle cx="235.77" cy="71.60" r="6.5" fill="#ff0a05"/><circle cx="258.94" cy="64.50" r="6.5" fill="#ff0a05"/><circle cx="282.11" cy="61.20" r="6.5" fill="#ff0a05"/><circle cx="305.28" cy="50.80" r="6.5" fill="#ff0a05"/><circle cx="340.03" cy="57.90" r="6.5" fill="#ff0a05"/><circle cx="374.78" cy="55.00" r="6.5" fill="#ff0a05"/><circle cx="444.28" cy="39.70" r="6.5" fill="#ff0a05"/><circle cx="513.79" cy="47.00" r="6.5" fill="#ff0a05"/><circle cx="583.29" cy="43.10" r="6.5" fill="#ff0a05"/><circle cx="652.80" cy="38.40" r="6.5" fill="#ff0a05"/>
<line x1="564" y1="115.9" x2="615" y2="115.9" stroke="#ff0a05" stroke-width="4.9" stroke-linecap="round"/>
<circle cx="589.3" cy="115.9" r="6.2" fill="#ff0a05"/>
<text x="622.5" y="123.9" class="lg">AIKL</text>
<line x1="564" y1="147.0" x2="615" y2="147.0" stroke="#000000" stroke-width="4.9" stroke-linecap="round"/>
<rect x="583.70" y="141.40" width="11.2" height="11.2" fill="#000000"/>
<text x="622.5" y="155.0" class="lg">KL</text>
<line x1="564" y1="178.2" x2="615" y2="178.2" stroke="#6a00ff" stroke-width="4.9" stroke-linecap="round"/>
<polygon points="581.80,173.80 596.80,173.80 589.30,187.00" fill="#6a00ff"/>
<text x="622.5" y="186.4" class="lg">ASKL</text>
<text x="404.3" y="540.5" class="at" style="font-size:24.5px" text-anchor="middle">t(min)</text>
<text transform="translate(18.9,263) rotate(-90)" class="at" style="font-size:25.5px">q<tspan dy="9.5">t</tspan><tspan dy="-9.5">(mg/g)</tspan></text>
</svg>
</body></html>
